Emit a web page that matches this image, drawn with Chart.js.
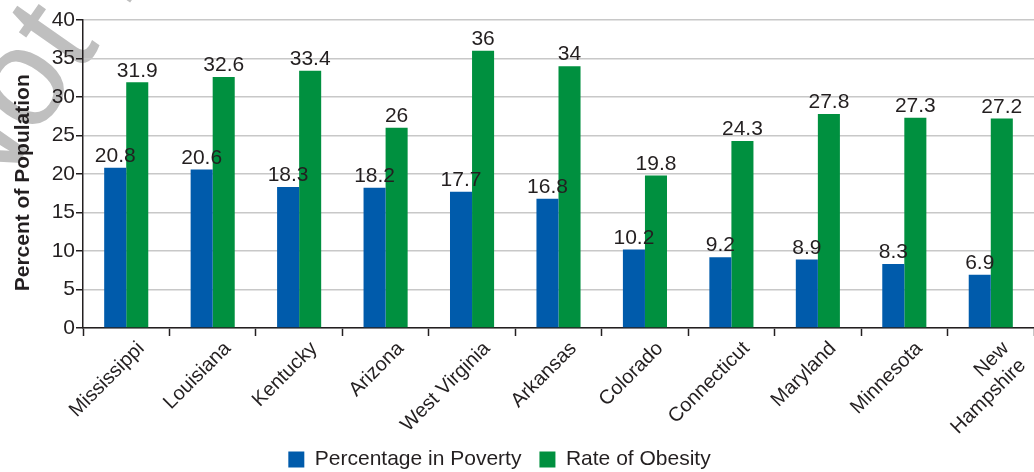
<!DOCTYPE html>
<html>
<head>
<meta charset="utf-8">
<script src="https://cdn.jsdelivr.net/npm/chart.js@4.4.0/dist/chart.umd.min.js"></script>
<style>
  html, body { margin: 0; padding: 0; background: #fff; }
  #wrap { width: 1034px; height: 472px; position: relative; }
</style>
</head>
<body>
<div id="wrap"><canvas id="myChart"></canvas></div>
<script>
const states = ['Mississippi', 'Louisiana', 'Kentucky', 'Arizona', 'West Virginia', 'Arkansas',
                'Colorado', 'Connecticut', 'Maryland', 'Minnesota', ['New', 'Hampshire']];
const poverty = [20.8, 20.6, 18.3, 18.2, 17.7, 16.8, 10.2, 9.2, 8.9, 8.3, 6.9];
const obesity = [31.9, 32.6, 33.4, 26, 36, 34, 19.8, 24.3, 27.8, 27.3, 27.2];
const seriesNames = ['Percentage in Poverty', 'Rate of Obesity'];
const yMin = 0, yMax = 40, yStep = 5;

const textColor = '#231f20';
const fontFamily = '"Liberation Sans", Arial, Helvetica, sans-serif';

// faint watermark in the top-left corner
const watermark = {
    id: 'watermark',
    beforeDraw(chart) {
        const ctx = chart.ctx;
        ctx.save();
        ctx.fillStyle = '#bfbfbf';
        ctx.font = '140px ' + fontFamily;
        ctx.translate(-56, 201);
        ctx.rotate(-55 * Math.PI / 180);
        ctx.fillText('Not for', 0, 0);
        ctx.restore();
    }
};

// value labels above each bar
const barLabels = {
    id: 'barLabels',
    afterDatasetsDraw(chart) {
        const ctx = chart.ctx;
        ctx.save();
        ctx.fillStyle = textColor;
        ctx.font = '21px ' + fontFamily;
        ctx.textAlign = 'center';
        ctx.textBaseline = 'bottom';
        chart.data.datasets.forEach((ds, i) => {
            chart.getDatasetMeta(i).data.forEach((bar, j) => {
                ctx.fillText(String(ds.data[j]), bar.x, bar.y - 1);
            });
        });
        ctx.restore();
    }
};

const ctx = document.getElementById('myChart');
new Chart(ctx, {
    type: 'bar',
    data: {
        labels: states,
        datasets: [{
            label: seriesNames[0],
            data: poverty,
            backgroundColor: '#005bab',
            barPercentage: 1,
            categoryPercentage: 0.51
        }, {
            label: seriesNames[1],
            data: obesity,
            backgroundColor: '#00903f',
            barPercentage: 1,
            categoryPercentage: 0.51
        }]
    },
    options: {
        responsive: true,
        maintainAspectRatio: false,
        animation: false,
        layout: { padding: { top: 20, right: 0, left: 0, bottom: -8 } },
        plugins: {
            tooltip: { enabled: false },
            legend: {
                position: 'bottom',
                labels: {
                    color: textColor,
                    font: { size: 21, family: fontFamily },
                    boxWidth: 16,
                    boxHeight: 16,
                    padding: 18,
                    generateLabels(chart) {
                        const items = Chart.defaults.plugins.legend.labels.generateLabels(chart);
                        // trailing spaces nudge the centred legend a little to the left
                        items[items.length - 1].text += '      ';
                        return items;
                    }
                }
            }
        },
        scales: {
            x: {
                grid: {
                    drawOnChartArea: false,
                    drawTicks: true,
                    tickLength: 8,
                    tickColor: textColor,
                    tickWidth: 1.5
                },
                border: { display: true, color: textColor, width: 1.5 },
                ticks: {
                    color: textColor,
                    font: { size: 20, family: fontFamily },
                    minRotation: 45,
                    maxRotation: 45,
                    autoSkip: false,
                    labelOffset: 15,
                    padding: 1
                },
                afterFit(scale) {
                    scale.height = 103;
                    // the rotated labels reach into the legend band, so don't clip them
                    scale._computeLabelArea = () => undefined;
                }
            },
            y: {
                min: yMin,
                max: yMax,
                ticks: {
                    stepSize: yStep,
                    color: textColor,
                    font: { size: 21, family: fontFamily },
                    padding: 1
                },
                grid: {
                    color: '#c8c8c8',
                    lineWidth: 1.5,
                    tickColor: textColor,
                    tickLength: 7
                },
                border: { display: true, color: textColor, width: 1.5 },
                title: {
                    display: true,
                    text: 'Percent of Population   ',
                    color: textColor,
                    font: { size: 21, weight: 'bold', family: fontFamily },
                    padding: { top: 11, bottom: 0 }
                },
                afterFit(scale) { scale.width = 83; }
            }
        }
    },
    plugins: [watermark, barLabels]
});
</script>
</body>
</html>
